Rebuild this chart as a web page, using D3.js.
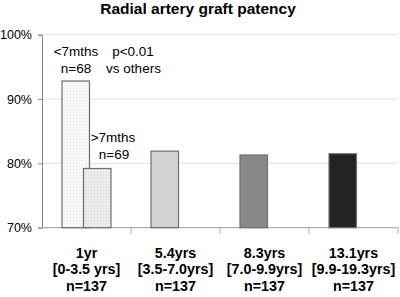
<!DOCTYPE html>
<html>
<head>
<meta charset="utf-8">
<script src="https://cdn.jsdelivr.net/npm/d3@7"></script>
<style>
  body { margin: 0; background: #fff; }
  text { font-family: "Liberation Sans", Arial, sans-serif; }
</style>
</head>
<body>
<div id="container"></div>
<script>
// chart values
let categories = ["1yr", "5.4yrs", "8.3yrs", "13.1yrs"];
let ranges = ["[0-3.5 yrs]", "[3.5-7.0yrs]", "[7.0-9.9yrs]", "[9.9-19.3yrs]"];
let counts = ["n=137", "n=137", "n=137", "n=137"];
let seriesNames = ["first", "second"];
let firstValues = [92.8, 81.9, 81.3, 81.5];
let secondValues = [79.2, null, null, null];
let yTicks = [70, 80, 90, 100];

let w = 400;
let h = 297;
let plotLeft = 42, plotRight = 398, plotTop = 34.7, plotBottom = 227.7;

let viz = d3.select("#container")
  .append("svg")
    .attr("width", w)
    .attr("height", h)
;

// dotted fills for the first group
let defs = viz.append("defs");
function dotPattern(id, bg, dot){
  let p = defs.append("pattern")
      .attr("id", id)
      .attr("width", 3)
      .attr("height", 3)
      .attr("patternUnits", "userSpaceOnUse");
  p.append("rect").attr("width", 3).attr("height", 3).attr("fill", bg);
  p.append("rect").attr("x", 1).attr("y", 1).attr("width", 1).attr("height", 1).attr("fill", dot);
}
dotPattern("dotsLight", "#f7f7f7", "#e6e6e6");
dotPattern("dotsMid", "#ebebeb", "#dadada");

let firstFills = ["url(#dotsLight)", "#d3d3d3", "#888888", "#232323"];
let secondFills = ["url(#dotsMid)", null, null, null];

let xScale = d3.scaleBand().domain(categories).range([plotLeft, plotRight]).padding(0);
let c = xScale.bandwidth() / 2;
let inner = d3.scaleBand().domain(seriesNames).range([c - 21.5, c + 21.5]).padding(0);
let barW = 27.5;
let yScale = d3.scaleLinear().domain([70, 100]).range([plotBottom, plotTop]);

// gridlines
viz.append("g")
  .selectAll("line").data(yTicks.filter(function(d){ return d > 70; })).enter()
  .append("line")
    .attr("x1", plotLeft).attr("x2", plotRight)
    .attr("y1", function(d){ return yScale(d); })
    .attr("y2", function(d){ return yScale(d); })
    .attr("stroke", "#e0e0e0")
    .attr("stroke-width", 1)
;

// y axis
let yAxis = d3.axisLeft(yScale).tickValues(yTicks)
  .tickFormat(function(d){ return d + "%"; })
  .tickSize(4).tickPadding(6);
let yAxisGroup = viz.append("g")
    .attr("transform", "translate(" + plotLeft + ",0)")
    .call(yAxis);
yAxisGroup.select(".domain").attr("stroke", "#888");
yAxisGroup.selectAll(".tick line").attr("stroke", "#888");
yAxisGroup.selectAll(".tick text")
  .style("font-size", "12.5px")
  .attr("fill", "#000");

// x axis: ticks on band edges
let xAxisGroup = viz.append("g");
xAxisGroup.append("line")
  .attr("x1", plotLeft).attr("x2", plotRight)
  .attr("y1", plotBottom).attr("y2", plotBottom)
  .attr("stroke", "#999");
xAxisGroup.selectAll(".xtick").data(categories).enter()
  .append("line")
    .attr("class", "xtick")
    .attr("x1", function(d){ return xScale(d) + xScale.bandwidth(); })
    .attr("x2", function(d){ return xScale(d) + xScale.bandwidth(); })
    .attr("y1", plotBottom).attr("y2", plotBottom + 6)
    .attr("stroke", "#aaa");

// category labels, three lines each
let labelGroup = viz.append("g");
let lines = [categories, ranges, counts];
lines.forEach(function(arr, k){
  labelGroup.selectAll(".lab" + k).data(arr).enter()
    .append("text")
      .attr("class", "lab" + k)
      .attr("x", function(d, i){ return xScale(categories[i]) + c; })
      .attr("y", 258 + k * 16.3)
      .attr("text-anchor", "middle")
      .style("font-size", "14.3px")
      .style("font-weight", "bold")
      .attr("fill", "#000")
      .text(function(d){ return d; });
});

// bars
let barGroup = viz.append("g");
barGroup.selectAll(".barA").data(firstValues).enter()
  .append("rect")
    .attr("class", "barA")
    .attr("x", function(d, i){ return xScale(categories[i]) + inner("first") + inner.bandwidth()/2 - barW/2; })
    .attr("y", function(d){ return yScale(d); })
    .attr("width", barW)
    .attr("height", function(d){ return yScale(70) - yScale(d); })
    .attr("fill", function(d, i){ return firstFills[i]; })
    .attr("stroke", "#707070")
    .attr("stroke-width", 1.2);
barGroup.selectAll(".barB").data(secondValues.filter(function(d){ return d != null; })).enter()
  .append("rect")
    .attr("class", "barB")
    .attr("x", function(d, i){ return xScale(categories[i]) + inner("second") + inner.bandwidth()/2 - barW/2; })
    .attr("y", function(d){ return yScale(d); })
    .attr("width", barW)
    .attr("height", function(d){ return yScale(70) - yScale(d); })
    .attr("fill", function(d, i){ return secondFills[i]; })
    .attr("stroke", "#707070")
    .attr("stroke-width", 1.2);

// annotations
let notes = [
  { t: "<7mths", x: 76, y: 56 },
  { t: "n=68", x: 76, y: 73 },
  { t: "p<0.01", x: 133, y: 56 },
  { t: "vs others", x: 133.5, y: 73 },
  { t: ">7mths", x: 113, y: 142 },
  { t: "n=69", x: 114, y: 159 }
];
viz.append("g").selectAll("text").data(notes).enter()
  .append("text")
    .attr("x", function(d){ return d.x; })
    .attr("y", function(d){ return d.y; })
    .attr("text-anchor", "middle")
    .style("font-size", "13.5px")
    .attr("fill", "#000")
    .text(function(d){ return d.t; });

// title
viz.append("text")
  .attr("x", 198)
  .attr("y", 14)
  .attr("text-anchor", "middle")
  .style("font-size", "15.5px")
  .style("font-weight", "bold")
  .attr("fill", "#000")
  .text("Radial artery graft patency");
</script>
</body>
</html>
